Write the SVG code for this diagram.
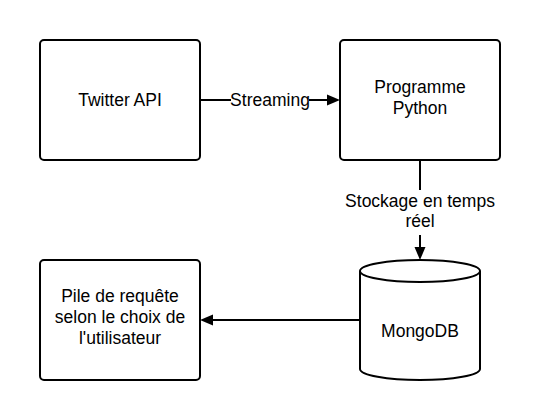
<svg xmlns="http://www.w3.org/2000/svg" width="552" height="420" viewBox="0 0 552 420">
<style>
.node{fill:#fff;stroke:#000;stroke-width:2}
.edge{fill:none;stroke:#000;stroke-width:2}
.lbl{font-family:"Liberation Sans",Arial,sans-serif;font-size:17.5px;fill:#000;text-anchor:middle}
.bg{fill:#fff;stroke:none}
</style>
<defs>
<marker id="arr" markerUnits="userSpaceOnUse" markerWidth="14" markerHeight="12" viewBox="0 -6 14 12" refX="0" refY="0" orient="auto">
<path d="M0,-5.5 L13,0 L0,5.5 Z" fill="#000"/>
</marker>
</defs>
<rect width="552" height="420" fill="#fff"/>
<g id="connectors">
<line class="edge" x1="200" y1="100" x2="327" y2="100" marker-end="url(#arr)"/>
<line class="edge" x1="420" y1="160" x2="420" y2="247" marker-end="url(#arr)"/>
<line class="edge" x1="360" y1="320" x2="213" y2="320" marker-end="url(#arr)"/>
<rect class="bg" x="231" y="91" width="78" height="18"/>
<text class="lbl" x="270" y="105.5">Streaming</text>
<rect class="bg" x="343" y="190" width="154" height="45"/>
<text class="lbl" x="420" y="206.5">Stockage en temps</text>
<text class="lbl" x="420" y="227">réel</text>
</g>
<g id="twitter-api">
<rect class="node" x="40" y="40" width="160" height="120" rx="4"/>
<text class="lbl" x="120" y="105.5">Twitter API</text>
</g>
<g id="programme-python">
<rect class="node" x="340" y="40" width="160" height="120" rx="4"/>
<text class="lbl" x="420" y="93">Programme</text>
<text class="lbl" x="420" y="114">Python</text>
</g>
<g id="mongodb">
<path class="node" d="M360,271 A60,11 0 0 1 480,271 V369 A60,11 0 0 1 360,369 Z"/>
<path class="edge" d="M360,271 A60,11 0 0 0 480,271"/>
<text class="lbl" x="420" y="337">MongoDB</text>
</g>
<g id="pile-requete">
<rect class="node" x="40" y="260" width="160" height="120" rx="4"/>
<text class="lbl" x="120" y="302">Pile de requête</text>
<text class="lbl" x="120" y="323">selon le choix de</text>
<text class="lbl" x="120" y="344">l'utilisateur</text>
</g>
</svg>
